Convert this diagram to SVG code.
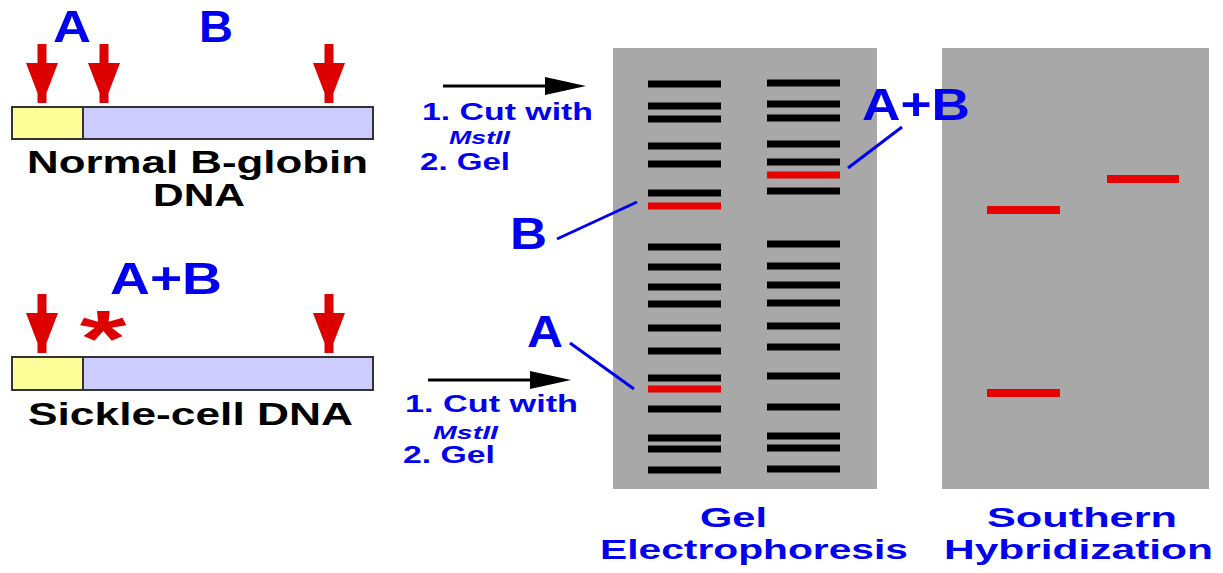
<svg xmlns="http://www.w3.org/2000/svg" width="1223" height="573" viewBox="0 0 1223 573">
<style>
text{font-family:"Liberation Sans",Arial,sans-serif;font-weight:bold;}
.blue{fill:#0000ee;}
.blk{fill:#000;}
.big{font-size:44px;}
.mid{font-size:32px;}
.cap{font-size:28px;}
.sm{font-size:24px;}
.it{font-size:19px;font-style:italic;}
.panel{fill:#a8a8a8;}
.band{fill:#000;}
.rband{fill:#e60000;}
.bar1{fill:#ffff99;stroke:#333;stroke-width:2;}
.bar2{fill:#ccccff;stroke:#333;stroke-width:2;}
.cut{fill:#dd0000;}
.lead{stroke:#0000ee;stroke-width:3;fill:none;}
.flow{stroke:#000;stroke-width:3;fill:none;}
</style>
<defs>
<path id="cutArrow" d="M-4.5,-59 H4.5 V-40 H16 L4.5,-10 V0 H-4.5 V-10 L-16,-40 H-4.5 Z"/>
<rect id="bl" x="0" y="-3.5" width="73" height="7"/>
</defs>
<rect width="1223" height="573" fill="#fff"/>

<g id="normal-dna">
<text class="blue big" x="53" y="42" textLength="38" lengthAdjust="spacingAndGlyphs">A</text>
<text class="blue big" x="199" y="42" textLength="34" lengthAdjust="spacingAndGlyphs">B</text>
<use href="#cutArrow" class="cut" transform="translate(42,103)"/>
<use href="#cutArrow" class="cut" transform="translate(104,103)"/>
<use href="#cutArrow" class="cut" transform="translate(329,103)"/>
<rect class="bar2" x="12" y="107" width="361" height="32"/>
<rect class="bar1" x="12" y="107" width="71" height="32"/>
<text class="blk mid" x="27" y="173" textLength="341" lengthAdjust="spacingAndGlyphs">Normal B-globin</text>
<text class="blk mid" x="153" y="206" textLength="92" lengthAdjust="spacingAndGlyphs">DNA</text>
</g>

<g id="sickle-dna">
<text class="blue big" x="110" y="294" textLength="112" lengthAdjust="spacingAndGlyphs">A+B</text>
<use href="#cutArrow" class="cut" transform="translate(42,353)"/>
<use href="#cutArrow" class="cut" transform="translate(329,353)"/>
<text x="0" y="366" text-anchor="middle" transform="translate(103,0) scale(1.5,1)" style="font-size:80px;fill:#dd0000;">*</text>
<rect class="bar2" x="12" y="357" width="361" height="33"/>
<rect class="bar1" x="12" y="357" width="71" height="33"/>
<text class="blk mid" x="28" y="425" textLength="325" lengthAdjust="spacingAndGlyphs">Sickle-cell DNA</text>
</g>

<g id="step-normal">
<text class="blue sm" x="422" y="120" textLength="171" lengthAdjust="spacingAndGlyphs">1. Cut with</text>
<text class="blue it" x="449" y="144" textLength="61" lengthAdjust="spacingAndGlyphs">MstII</text>
<text class="blue sm" x="420" y="170" textLength="90" lengthAdjust="spacingAndGlyphs">2. Gel</text>
</g>

<g id="step-sickle">
<text class="blue sm" x="405" y="412" textLength="173" lengthAdjust="spacingAndGlyphs">1. Cut with</text>
<text class="blue it" x="433" y="439" textLength="65" lengthAdjust="spacingAndGlyphs">MstII</text>
<text class="blue sm" x="403" y="463" textLength="92" lengthAdjust="spacingAndGlyphs">2. Gel</text>
</g>

<g id="gel">
<rect class="panel" x="613" y="48" width="264" height="441"/>
<g class="band">
<use href="#bl" x="648" y="84"/><use href="#bl" x="648" y="106"/><use href="#bl" x="648" y="119"/>
<use href="#bl" x="648" y="146"/><use href="#bl" x="648" y="164"/><use href="#bl" x="648" y="193"/>
<use href="#bl" x="648" y="247"/><use href="#bl" x="648" y="267"/><use href="#bl" x="648" y="287"/>
<use href="#bl" x="648" y="304"/><use href="#bl" x="648" y="328"/><use href="#bl" x="648" y="351"/>
<use href="#bl" x="648" y="378"/><use href="#bl" x="648" y="409"/><use href="#bl" x="648" y="438"/>
<use href="#bl" x="648" y="449"/><use href="#bl" x="648" y="470"/>
<use href="#bl" x="767" y="83"/><use href="#bl" x="767" y="104"/><use href="#bl" x="767" y="118"/>
<use href="#bl" x="767" y="144"/><use href="#bl" x="767" y="162"/><use href="#bl" x="767" y="191"/>
<use href="#bl" x="767" y="244"/><use href="#bl" x="767" y="266"/><use href="#bl" x="767" y="285"/>
<use href="#bl" x="767" y="303"/><use href="#bl" x="767" y="326"/><use href="#bl" x="767" y="347"/>
<use href="#bl" x="767" y="376"/><use href="#bl" x="767" y="407"/><use href="#bl" x="767" y="436"/>
<use href="#bl" x="767" y="448"/><use href="#bl" x="767" y="469"/>
</g>
<g class="rband">
<use href="#bl" x="648" y="206"/>
<use href="#bl" x="648" y="389"/>
<use href="#bl" x="767" y="175"/>
</g>
<text class="blue cap" x="700" y="527" textLength="67" lengthAdjust="spacingAndGlyphs">Gel</text>
<text class="blue cap" x="600" y="559" textLength="308" lengthAdjust="spacingAndGlyphs">Electrophoresis</text>
</g>

<g id="southern">
<rect class="panel" x="942" y="48" width="267" height="441"/>
<g class="rband">
<rect x="987" y="206" width="73" height="8"/>
<rect x="987" y="389" width="73" height="8"/>
<rect x="1107" y="175" width="72" height="8"/>
</g>
<text class="blue cap" x="987" y="527" textLength="190" lengthAdjust="spacingAndGlyphs">Southern</text>
<text class="blue cap" x="944" y="559" textLength="269" lengthAdjust="spacingAndGlyphs">Hybridization</text>
</g>

<g id="label-B">
<text class="blue big" x="510" y="249" textLength="37" lengthAdjust="spacingAndGlyphs">B</text>
</g>
<g id="label-A">
<text class="blue big" x="527" y="347" textLength="36" lengthAdjust="spacingAndGlyphs">A</text>
</g>
<g id="label-AB">
<text class="blue big" x="862" y="120" textLength="108" lengthAdjust="spacingAndGlyphs">A+B</text>
</g>

<g id="connectors">
<line class="flow" x1="443" y1="86" x2="550" y2="86"/>
<polygon points="545,77 586,86 545,95" fill="#000"/>
<line class="flow" x1="428" y1="380" x2="535" y2="380"/>
<polygon points="530,371 571,380 530,389" fill="#000"/>
<line class="lead" x1="557" y1="239" x2="637" y2="202"/>
<line class="lead" x1="570" y1="343" x2="634" y2="389"/>
<line class="lead" x1="902" y1="127" x2="848" y2="168"/>
</g>
</svg>
